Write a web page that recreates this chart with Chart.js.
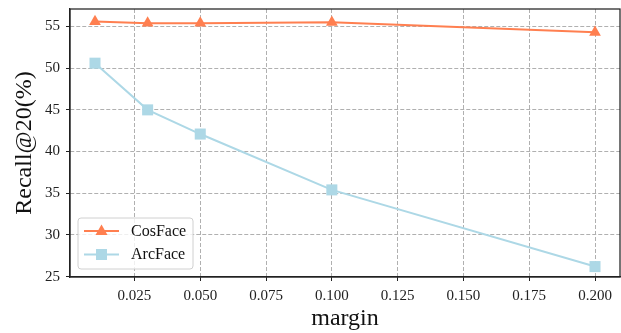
<!DOCTYPE html>
<html>
<head>
<meta charset="utf-8">
<script src="https://cdn.jsdelivr.net/npm/chart.js@4.4.0/dist/chart.umd.min.js"></script>
<style>
  html, body { margin: 0; padding: 0; background: #fff; }
  #wrap { width: 621px; height: 333px; }
</style>
</head>
<body>
<div id="wrap"><canvas id="chart" width="621" height="333"></canvas></div>
<script>
const margins = [0.01, 0.03, 0.05, 0.1, 0.2];
const cosFace = [55.6, 55.4, 55.4, 55.5, 54.3];
const arcFace = [50.6, 45.0, 42.1, 35.4, 26.2];
const xTicks = [0.025, 0.05, 0.075, 0.1, 0.125, 0.15, 0.175, 0.2];
const yTicks = [25, 30, 35, 40, 45, 50, 55];

const FONT = "'Liberation Serif', 'Times New Roman', serif";
const coral = '#FF7F50';
const lightBlue = '#ADD8E6';

const toPoints = (ys) => margins.map((x, i) => ({ x: x, y: ys[i] }));

// frame + in-plot legend, matplotlib style
const framePlugin = {
    id: 'frame',
    afterDraw(chart) {
        const { ctx, chartArea: a } = chart;
        ctx.save();
        ctx.strokeStyle = '#222';
        ctx.lineWidth = 1.25;
        ctx.strokeRect(a.left, a.top, a.right - a.left, a.bottom - a.top);

        // legend box
        const bx = 78, by = 218, bw = 115, bh = 51;
        ctx.beginPath();
        ctx.roundRect(bx, by, bw, bh, 3);
        ctx.fillStyle = 'rgba(255,255,255,0.8)';
        ctx.fill();
        ctx.strokeStyle = '#d0d0d0';
        ctx.lineWidth = 1;
        ctx.stroke();

        const items = [
            { label: 'CosFace', color: coral, marker: 'tri', y: 231 },
            { label: 'ArcFace', color: lightBlue, marker: 'sq', y: 254.5 }
        ];
        items.forEach(it => {
            ctx.strokeStyle = it.color;
            ctx.lineWidth = 2;
            ctx.beginPath();
            ctx.moveTo(84, it.y);
            ctx.lineTo(119, it.y);
            ctx.stroke();
            ctx.fillStyle = it.color;
            ctx.beginPath();
            if (it.marker === 'tri') {
                ctx.moveTo(101.5, it.y - 6.5);
                ctx.lineTo(107.5, it.y + 4);
                ctx.lineTo(95.5, it.y + 4);
                ctx.closePath();
            } else {
                ctx.rect(96, it.y - 5.5, 11, 11);
            }
            ctx.fill();
            ctx.fillStyle = '#111';
            ctx.font = '16px ' + FONT;
            ctx.textBaseline = 'middle';
            ctx.fillText(it.label, 131, it.y + 0.5);
        });
        ctx.restore();
    }
};

const gridOpts = {
    color: '#b0b0b0',
    lineWidth: 1,
    tickLength: 4,
    tickColor: '#222',
    tickBorderDash: [],
    tickWidth: 1
};

new Chart(document.getElementById('chart'), {
    type: 'line',
    data: {
        datasets: [
            {
                label: 'CosFace',
                data: toPoints(cosFace),
                borderColor: coral,
                backgroundColor: coral,
                borderWidth: 2,
                pointStyle: 'triangle',
                pointRadius: 6.8,
                pointBorderWidth: 0,
                tension: 0
            },
            {
                label: 'ArcFace',
                data: toPoints(arcFace),
                borderColor: lightBlue,
                backgroundColor: lightBlue,
                borderWidth: 2,
                pointStyle: 'rect',
                pointRadius: 7.8,
                pointBorderWidth: 0,
                tension: 0
            }
        ]
    },
    options: {
        responsive: false,
        animation: false,
        clip: false,
        layout: { autoPadding: false, padding: { left: 0, right: 1, top: 9, bottom: 0 } },
        plugins: {
            legend: { display: false },
            tooltip: { enabled: false }
        },
        scales: {
            x: {
                type: 'linear',
                min: 0.0005,
                max: 0.2095,
                afterBuildTicks: (s) => { s.ticks = xTicks.map(v => ({ value: v })); },
                afterFit: (s) => { s.height = 56; s.paddingLeft = 0; s.paddingRight = 0; },
                ticks: {
                    color: '#222',
                    font: { family: FONT, size: 15 },
                    padding: 6,
                    maxRotation: 0,
                    callback: (v) => v.toFixed(3)
                },
                grid: gridOpts,
                border: { display: true, color: '#222', width: 1.25, dash: [4, 2] },
                title: {
                    display: true,
                    text: 'margin',
                    color: '#111',
                    font: { family: FONT, size: 24 },
                    padding: { top: 0, bottom: 0 }
                }
            },
            y: {
                type: 'linear',
                min: 24.95,
                max: 57.1,
                afterBuildTicks: (s) => { s.ticks = yTicks.map(v => ({ value: v })); },
                afterFit: (s) => { s.width = 70; s.paddingTop = 0; s.paddingBottom = 0; },
                ticks: {
                    color: '#222',
                    font: { family: FONT, size: 15 },
                    padding: 6
                },
                grid: gridOpts,
                border: { display: true, color: '#222', width: 1.25, dash: [4, 2] },
                title: {
                    display: true,
                    text: 'Recall@20(%)',
                    color: '#111',
                    font: { family: FONT, size: 24 },
                    padding: { top: 10, bottom: 0 }
                }
            }
        }
    },
    plugins: [framePlugin]
});
</script>
</body>
</html>
